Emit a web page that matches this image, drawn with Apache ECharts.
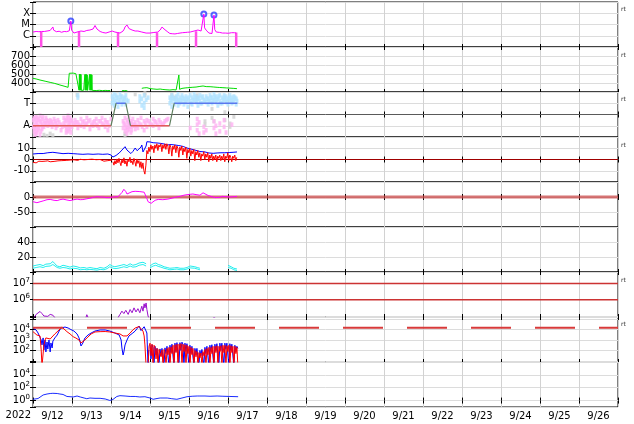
<!DOCTYPE html>
<html><head><meta charset="utf-8">
<script src="https://cdn.jsdelivr.net/npm/echarts@6/dist/echarts.min.js"></script>
<style>html,body{margin:0;padding:0;background:#fff}#c{width:634px;height:424px}</style>
</head><body><div id="c"></div>
<script>
// ---------- DATA (time t in days since 2022-09-12 00:00 UT) ----------
const dayLabels = ['9/12','9/13','9/14','9/15','9/16','9/17','9/18','9/19','9/20','9/21','9/22','9/23','9/24','9/25','9/26'];
const yearLabel = '2022';

// Panel 1: X-ray class level (C=1, M=2, X=3)
const xrayLevel = [[0,1.33],[0.04,1.29],[0.08,1.38],[0.1,1.33],[0.13,1.29],[0.15,1.36],[0.18,1.33],[0.22,1.38],[0.26,1.42],[0.29,1.38],[0.33,1.47],[0.36,1.42],[0.38,1.38],[0.41,1.44],[0.44,1.47],[0.46,1.42],[0.49,1.6],[0.51,1.78],[0.53,1.5],[0.56,1.42],[0.6,1.36],[0.64,1.33],[0.67,1.4],[0.69,1.38],[0.73,1.31],[0.77,1.33],[0.8,1.38],[0.82,1.42],[0.86,1.36],[0.9,1.38],[0.93,1.44],[0.95,1.51],[0.97,2.31],[0.99,1.5],[1.0,1.47],[1.03,1.33],[1.05,1.24],[1.09,1.3],[1.13,1.33],[1.18,1.38],[1.23,1.42],[1.27,1.36],[1.31,1.38],[1.35,1.44],[1.38,1.47],[1.42,1.44],[1.46,1.51],[1.5,1.55],[1.54,1.6],[1.57,1.75],[1.59,1.91],[1.61,1.75],[1.64,1.6],[1.68,1.47],[1.72,1.38],[1.76,1.33],[1.79,1.29],[1.83,1.26],[1.87,1.24],[1.91,1.3],[1.95,1.33],[1.99,1.38],[2.03,1.42],[2.06,1.36],[2.1,1.33],[2.16,1.29],[2.23,1.24],[2.27,1.33],[2.31,1.42],[2.34,1.6],[2.36,1.78],[2.38,1.85],[2.41,1.96],[2.43,1.8],[2.46,1.64],[2.5,1.56],[2.54,1.51],[2.58,1.47],[2.62,1.42],[2.66,1.45],[2.69,1.42],[2.74,1.38],[2.79,1.33],[2.84,1.29],[2.9,1.24],[2.95,1.27],[3.0,1.24],[3.05,1.27],[3.1,1.29],[3.15,1.24],[3.2,1.33],[3.23,1.42],[3.26,1.51],[3.29,1.65],[3.31,1.78],[3.34,1.7],[3.36,1.6],[3.4,1.47],[3.44,1.38],[3.48,1.29],[3.51,1.2],[3.57,1.18],[3.64,1.16],[3.7,1.2],[3.77,1.24],[3.83,1.27],[3.9,1.29],[3.96,1.31],[4.03,1.33],[4.08,1.38],[4.13,1.42],[4.18,1.47],[4.23,1.51],[4.27,1.47],[4.31,1.42],[4.34,1.47],[4.36,1.51],[4.38,2.93],[4.4,1.7],[4.41,1.6],[4.44,1.5],[4.46,1.42],[4.49,1.33],[4.51,1.24],[4.55,1.22],[4.59,1.2],[4.62,1.3],[4.64,2.84],[4.66,1.55],[4.67,1.42],[4.7,1.33],[4.74,1.24],[4.78,1.3],[4.82,1.33],[4.86,1.24],[4.9,1.16],[4.93,1.24],[4.97,1.29],[5.01,1.22],[5.05,1.2],[5.09,1.27],[5.13,1.33],[5.17,1.27],[5.21,1.24]];
const xrayGaps = [[0.21,1.33],[1.18,1.35],[2.18,1.3],[3.18,1.3],[4.18,1.4],[5.21,1.3]];
const xrayFlares = [[0.97,2.31],[4.38,2.93],[4.64,2.84]];

// Panel 2: solar wind speed (km/s)
const windSpeed = [[0,452],[0.08,445],[0.18,433],[0.31,420],[0.44,407],[0.56,395],[0.69,378],[0.82,362],[0.9,352],[0.92,350],
 [0.93,508],[0.97,505],[1.03,510],[1.1,503],[1.15,500],
 [1.18,320],[1.19,500],[1.2,320],[1.21,500],[1.22,320],[1.23,495],[1.24,318],[1.26,322],[1.28,318],[1.3,320],
 [1.33,495],[1.34,320],[1.35,495],[1.36,320],[1.37,495],[1.38,320],[1.39,490],[1.4,318],[1.42,320],[1.44,318],
 [1.45,495],[1.46,320],[1.47,495],[1.48,320],[1.49,495],[1.5,320],[1.51,490],[1.52,318],
 [1.56,320],[1.62,316],[1.7,319],[1.78,315],[1.85,318],[1.92,316],[1.98,317],null,
 [2.28,314],[2.35,316],[2.42,313],null,
 [2.79,341],[2.85,346],[2.92,348],[3.0,338],[3.08,334],[3.18,330],[3.26,333],[3.33,328],[3.41,325],[3.51,322],[3.59,326],[3.67,323],[3.72,326],[3.74,489],[3.76,330],[3.82,340],[3.9,345],[3.97,348],[4.08,352],[4.18,355],[4.28,362],[4.36,367],[4.44,360],[4.54,359],[4.62,356],[4.72,352],[4.79,350],[4.87,348],[4.97,345],[5.05,343],[5.15,340],[5.23,337]];

// Panel 3: IMF sector (T = toward = 1, A = away = -1)
const sectorAway = [[[0,-1],[2.0,-1]],[[2.5,-1],[3.5,-1]]];
const sectorToward = [[[2.13,1],[2.38,1]],[[3.62,1],[5.24,1]]];
const sectorRamp = [[[2.0,-1],[2.13,1]],[[2.38,1],[2.5,-1]],[[3.5,-1],[3.62,1]]];
const phiPink = [[0.03,-0.3],[0.03,-0.9],[0.03,-1.5],[0.08,-0.2],[0.08,-0.7],[0.08,-1.2],[0.08,-1.7],[0.13,-0.5],[0.13,-1.0],[0.13,-1.4],[0.18,-0.1],[0.18,-0.6],[0.18,-1.8],[0.23,-0.4],[0.23,-0.9],[0.23,-1.3],[0.28,-0.6],[0.28,-1.1],[0.33,-0.3],[0.33,-0.8],[0.38,-0.6],[0.38,-1.0],[0.44,-0.5],[0.44,-0.9],[0.49,-0.7],[0.49,-1.1],[0.54,-0.4],[0.59,-0.8],[0.59,-1.2],[0.64,-0.5],[0.72,-0.9],[0.72,-1.4],[0.79,-0.3],[0.79,-0.8],[0.85,-0.6],[0.85,-1.2],[0.85,-1.6],[0.9,-0.1],[0.9,-0.5],[0.9,-1.0],[0.9,-1.5],[0.95,-0.3],[0.95,-0.8],[0.95,-1.3],[1.0,-0.6],[1.0,-1.1],[1.08,-0.5],[1.08,-0.9],[1.15,-0.7],[1.15,-1.2],[1.23,-0.4],[1.23,-1.0],[1.31,-0.6],[1.31,-1.1],[1.38,-0.3],[1.38,-0.8],[1.46,-0.5],[1.46,-1.3],[1.54,-0.7],[1.54,-1.0],[1.62,-0.4],[1.62,-0.9],[1.69,-0.6],[1.69,-1.2],[1.77,-0.3],[1.77,-0.8],[1.85,-0.5],[1.85,-1.1],[1.92,-0.7],[1.92,-1.4],[2.0,-0.4],[2.31,-0.6],[2.31,-1.2],[2.36,-0.3],[2.36,-0.9],[2.36,-1.5],[2.41,-0.5],[2.41,-1.1],[2.41,-1.7],[2.46,-0.2],[2.46,-0.8],[2.46,-1.3],[2.51,-0.6],[2.51,-1.1],[2.51,-1.6],[2.56,-0.4],[2.56,-1.0],[2.62,-0.7],[2.62,-1.3],[2.69,-0.5],[2.69,-1.2],[2.77,-0.3],[2.77,-0.9],[2.85,-0.6],[2.85,-1.4],[2.92,-0.5],[2.92,-1.1],[3.0,-0.8],[3.08,-0.4],[3.08,-1.0],[3.15,-0.7],[3.23,-0.5],[3.23,-1.2],[3.31,-0.9],[3.38,-0.6],[3.46,-0.4],[4.03,-1.2],[4.21,-0.4],[4.21,-0.9],[4.21,-1.4],[4.26,-0.7],[4.26,-1.7],[4.38,-1.1],[4.38,-1.6],[4.44,-1.4],[4.64,-0.6],[4.64,-1.2],[4.69,-1.0],[4.69,-1.7],[4.79,-0.8],[4.79,-1.5],[4.9,-0.5],[4.9,-1.1],[4.95,-1.6],[5.1,-0.9],
 [0.01,-0.5],[0.01,-1.1],[0.05,-0.4],[0.05,-1.3],[0.05,-1.8],[0.1,-0.3],[0.1,-0.8],[0.1,-1.6],[0.15,-0.4],[0.15,-1.2],[0.2,-0.7],[0.2,-1.5],[0.25,-0.2],[0.25,-1.1],[0.3,-0.8],[0.35,-0.5],[0.41,-0.8],[0.46,-0.6],[0.52,-0.9],[0.57,-0.6],[0.62,-1.0],[0.67,-0.7],[0.75,-1.1],[0.82,-0.5],[0.82,-1.0],[0.87,-0.3],[0.87,-1.4],[0.92,-0.7],[0.92,-1.2],[0.97,-0.5],[0.97,-1.6],[1.03,-0.8],[1.11,-0.7],[1.18,-0.9],[1.27,-0.7],[1.34,-0.9],[1.42,-0.6],[1.5,-0.9],[1.58,-0.6],[1.65,-1.0],[1.73,-0.6],[1.81,-0.9],[1.88,-0.7],[1.95,-1.0],[2.33,-0.8],[2.38,-1.2],[2.43,-0.7],[2.43,-1.4],[2.48,-1.0],[2.53,-0.8],[2.53,-1.4],[2.59,-0.9],[2.65,-1.0],[2.72,-0.8],[2.8,-1.1],[2.88,-0.8],[2.96,-0.6],[3.04,-0.9],[3.12,-0.6],[3.19,-0.9],[3.27,-0.7],[3.35,-0.8],[3.42,-0.5]];
const phiBlue = [[1.15,1.7],[1.15,1.5],[2.03,1.6],[2.03,1.0],[2.08,1.4],[2.08,0.8],[2.08,1.8],[2.13,1.2],[2.13,1.7],[2.18,0.7],[2.18,1.5],[2.23,1.3],[2.23,1.8],[2.28,0.9],[2.28,1.6],[2.33,1.4],[2.33,1.1],[2.38,1.7],[2.38,0.9],[2.44,1.2],[2.74,1.6],[2.74,1.2],[2.79,1.4],[2.79,0.8],[2.85,1.7],[2.85,1.0],[2.85,0.6],[2.9,1.3],[2.95,1.5],[3.51,1.5],[3.51,1.0],[3.56,1.7],[3.56,1.2],[3.56,0.7],[3.62,1.4],[3.62,0.9],[3.67,1.6],[3.67,1.1],[3.72,1.8],[3.72,1.3],[3.72,0.8],[3.77,1.5],[3.77,1.0],[3.82,1.2],[3.82,1.7],[3.87,1.4],[3.87,0.9],[3.92,1.6],[3.92,1.1],[3.97,1.3],[3.97,0.7],[4.03,1.7],[4.03,1.2],[4.08,1.5],[4.08,0.9],[4.13,1.8],[4.13,1.3],[4.18,1.1],[4.18,1.6],[4.23,1.4],[4.23,0.8],[4.28,1.7],[4.28,1.2],[4.33,1.5],[4.33,1.0],[4.38,1.3],[4.44,1.6],[4.44,1.1],[4.49,1.4],[4.49,0.9],[4.54,1.7],[4.54,1.2],[4.59,1.5],[4.59,1.0],[4.64,1.3],[4.64,1.8],[4.69,1.1],[4.69,1.6],[4.74,1.4],[4.74,0.8],[4.79,1.7],[4.79,1.2],[4.85,1.5],[4.85,1.0],[4.9,1.3],[4.9,1.7],[4.95,1.6],[4.95,1.1],[5.0,1.4],[5.0,0.9],[5.05,1.7],[5.05,1.2],[5.1,1.5],[5.1,1.0],[5.15,1.3],[5.15,1.6],[5.21,1.4],[5.21,0.9],
 [2.05,1.3],[2.1,1.0],[2.15,1.5],[2.2,1.1],[2.25,1.55],[2.3,1.2],[2.35,1.5],[2.4,1.3],[3.53,1.3],[3.58,1.5],[3.64,1.2],[3.69,1.4],[3.74,1.1],[3.79,1.3],[3.84,1.5],[3.89,1.2],[3.94,1.4],[3.99,1.5],[4.05,1.0],[4.1,1.3],[4.15,1.5],[4.2,1.2],[4.25,1.5],[4.3,1.0],[4.35,1.6],[4.4,1.2],[4.46,1.4],[4.51,1.2],[4.56,1.5],[4.61,1.2],[4.66,1.5],[4.71,1.3],[4.76,1.6],[4.81,1.0],[4.87,1.3],[4.92,1.5],[4.97,1.2],[5.03,1.5],[5.08,1.3],[5.13,1.1],[5.18,1.5],[5.23,1.2]];
const phiGray = [[0.28,-1.8],[0.36,-1.9],[0.44,-1.7],[0.51,-1.85],[1.13,1.75],[2.36,-1.7],[2.36,-1.9],[2.62,1.8],[2.87,1.9],[2.87,1.7],[3.56,1.8],[3.56,1.6],[3.64,1.5],[4.21,1.7],[4.21,1.4],[4.41,-0.6],[4.41,-0.9],[4.59,0.5],[4.59,-0.3],[4.64,-0.6],[4.92,0.2],[4.92,-0.5],[5.05,-0.8],[5.05,-1.1],[5.15,-0.2]];

// Panel 4: IMF Bt (blue) and Bz (red), nT
const imfBt = [[0,4.9],[0.13,5.3],[0.26,5.3],[0.38,6.0],[0.51,6.4],[0.64,5.8],[0.77,5.2],[0.9,5.5],[1.03,5.2],[1.15,4.9],[1.28,4.6],[1.41,4.9],[1.54,4.6],[1.67,4.9],[1.79,4.6],[1.92,4.9],[2.0,4.0],[2.05,2.2],[2.13,3.6],[2.21,5.8],[2.26,7.6],[2.31,9.3],[2.36,11.4],[2.41,8.4],[2.46,6.7],[2.51,5.3],[2.56,7.1],[2.62,10.2],[2.67,7.8],[2.72,6.7],[2.77,11.1],[2.79,12.9],[2.82,6.7],[2.85,8.4],[2.9,12.0],[2.92,15.8],[3.0,15.6],[3.08,14.9],[3.18,14.7],[3.26,14.4],[3.36,13.8],[3.44,12.9],[3.54,13.3],[3.64,12.9],[3.74,12.4],[3.85,11.6],[3.95,10.2],[4.05,9.3],[4.15,8.4],[4.28,7.1],[4.41,6.7],[4.51,5.8],[4.62,5.5],[4.72,5.8],[4.82,6.0],[4.92,6.0],[5.03,6.2],[5.13,6.4],[5.23,6.7]];
const imfBzEarly = [[0,-2.5],[0.03,-3.5],[0.05,-1.8],[0.08,-3.0],[0.1,-2.0],[0.13,-3.2],[0.15,-1.5],[0.18,-2.8],[0.23,-1.7],[0.26,-3.0],[0.31,-1.5],[0.33,-2.5],[0.38,-1.2],[0.44,-2.0],[0.49,-0.8],[0.54,-1.7],[0.59,-0.5],[0.64,-1.2],[0.69,-0.2],[0.74,-1.0],[0.79,0.2],[0.85,-0.8],[0.9,0.3],[0.95,-0.5],[1.0,0.5],[1.05,-0.3],[1.1,0.4],[1.15,-0.8],[1.21,0.2],[1.26,-1.5],[1.31,-0.3],[1.36,-1.0],[1.41,0.0],[1.46,-0.8],[1.51,0.3],[1.56,-1.0],[1.62,-0.2],[1.67,-1.2],[1.72,0.0],[1.77,-0.7],[1.82,-1.5],[1.87,-0.2],[1.92,-1.0],[1.97,0.5],[2.03,-0.5]];
const bzStart = 2.05, bzCadence = 0.0256;
const imfBzLate = [-2,-5,-1,-4,0.5,-3,1,-2.5,-5.5,0,-3,1.5,-4,-1,-6,0,-2,2,-3,-1,-4.5,1,-2,-6,0.5,-3.5,-1,-7,-2,-8,-3,-10,-13,-5,8,5,11,7,13,9,12,6,13,10,14,8,13,11,14,7,13,10,14,9,14,12,5,13,11,3,12,9,13,6,12,10,2,11,8,12,4,10,7,11,1,9,6,10,3,8,5,9,-1,7,4,8,2,6,-1,5,3,7,0,5,2,6,-2,4,1,5,-1,3,0,4,-2,3,1,4,-1,3,0,5,-2,3,1,6,-1,4,2,-2,3,1,4,-1,2];

// Panel 5: magenta index
const indexAE = [[0,-15.6],[0.1,-19],[0.18,-16],[0.26,-13],[0.36,-9],[0.44,-8],[0.54,-11],[0.62,-12],[0.69,-9],[0.77,-7],[0.87,-10],[0.95,-12],[1.05,-9],[1.13,-7],[1.21,-9],[1.28,-8.5],[1.38,-6],[1.46,-4],[1.56,-1],[1.64,1],[1.72,0],[1.79,0],[1.87,-2],[1.97,-2],[2.05,0],[2.1,2],[2.18,1],[2.23,6.7],[2.28,15],[2.33,25.6],[2.38,18],[2.41,10],[2.46,8],[2.54,17.8],[2.62,19],[2.67,20],[2.74,18],[2.79,23],[2.85,16],[2.87,10],[2.92,-5],[2.95,-15.6],[3.03,-21],[3.08,-17],[3.13,-11],[3.21,-8],[3.26,-5],[3.33,-9],[3.38,-11],[3.46,-7],[3.51,-5],[3.62,-2],[3.69,0],[3.79,3],[3.87,6],[3.95,7.8],[4.03,9],[4.1,10],[4.18,8],[4.28,6],[4.36,14],[4.41,10],[4.49,5],[4.59,1],[4.67,-2],[4.72,-3.3],[4.79,-1],[4.85,2],[4.95,1],[5.05,0],[5.15,1],[5.23,2]];

// Panel 6: cyan pair
const cyanHigh = [[0,8],[0.08,9],[0.18,10],[0.26,8.5],[0.33,10.5],[0.44,11],[0.51,14],[0.56,11],[0.62,8],[0.69,7],[0.77,9],[0.85,8],[0.95,6.5],[1.03,8],[1.13,7],[1.21,5.5],[1.31,6],[1.38,5],[1.46,6],[1.56,5],[1.64,4.5],[1.72,6],[1.82,5],[1.9,7],[1.97,10],[2.03,8],[2.1,7],[2.18,8],[2.26,9],[2.33,10],[2.41,8.5],[2.49,11],[2.56,9],[2.64,10],[2.72,12],[2.77,10],[2.82,13],[2.87,14.7],[2.9,11],null,[3.0,8],[3.08,11],[3.15,12],[3.21,10],[3.28,9],[3.36,7],[3.44,6],[3.51,5],[3.62,5.5],[3.69,6],[3.77,5],[3.87,5],[3.95,6],[4.03,8],[4.08,10],[4.15,7],[4.21,6],[4.28,5],null,[5.0,9],[5.08,7],[5.15,5],[5.23,4]];
const cyanLow = [[0,5],[0.08,6],[0.18,7],[0.26,6],[0.33,7.5],[0.44,8],[0.51,10],[0.56,8.5],[0.62,6],[0.69,5],[0.77,6],[0.85,5.5],[0.95,4],[1.03,5],[1.13,4.5],[1.21,3],[1.31,3.5],[1.38,3],[1.46,3.5],[1.56,3],[1.64,2.5],[1.72,3.5],[1.82,3],[1.9,4.5],[1.97,7],[2.03,5.5],[2.1,4.5],[2.18,5],[2.26,6],[2.33,7],[2.41,6],[2.49,8],[2.56,6.5],[2.64,7],[2.72,9],[2.77,7.5],[2.82,10],[2.87,11],[2.9,8],null,[3.0,5.5],[3.08,8],[3.15,9],[3.21,7.5],[3.28,6.5],[3.36,5],[3.44,4],[3.51,3],[3.62,3.5],[3.69,4],[3.77,3],[3.87,3],[3.95,4],[4.03,5.5],[4.08,7],[4.15,5],[4.21,4],[4.28,3],null,[5.0,6],[5.08,5],[5.15,3],[5.23,2]];

// Panel 7: log10 of purple flux, thresholds
const fluxThresholds = [7, 6];
const purpleLog = [[0.03,4.9],[0.08,5.1],[0.13,5.2],[0.18,5.28],[0.23,5.15],[0.28,5.0],[0.33,5.05],[0.38,4.98],[0.44,5.1],[0.51,5.05],[0.56,4.9],null,[1.36,4.92],[1.38,5.08],[1.41,4.92],null,[2.18,4.9],[2.23,5.1],[2.28,5.3],[2.33,5.15],[2.38,5.35],[2.44,5.1],[2.49,5.4],[2.54,5.2],[2.59,5.5],[2.64,5.25],[2.69,5.45],[2.74,5.2],[2.79,5.6],[2.82,5.3],[2.85,5.75],[2.87,5.5],[2.9,5.8],[2.92,5.4],[2.95,5.0],[2.97,4.9],null,[4.62,4.9],[4.64,4.98],[4.67,4.9]];

// Panel 8: log10 of electron fluxes (blue, red) and threshold
const p8Threshold = 4.18;
const p8BlueEarly = [[0,4.12],[0.08,3.96],[0.13,3.67],[0.18,3.48],[0.21,3.0],[0.23,2.53],[0.26,3.2],[0.28,2.05],[0.31,3.0],[0.33,1.86],[0.36,2.81],[0.38,2.14],[0.41,3.0],[0.44,1.86],[0.46,2.72],[0.49,2.24],[0.51,2.9],[0.56,3.2],[0.62,3.48],[0.67,3.86],[0.72,4.15],[0.77,4.29],[0.82,4.24],[0.9,4.15],[0.97,4.0],[1.05,3.86],[1.13,3.58],[1.18,3.2],[1.21,2.81],[1.23,2.43],[1.26,2.24],[1.28,2.72],[1.33,3.19],[1.41,3.48],[1.49,3.67],[1.59,3.86],[1.72,3.96],[1.85,3.96],[1.97,3.86],[2.1,3.67],[2.21,3.48],[2.26,3.0],[2.28,2.24],[2.31,1.57],[2.33,1.86],[2.36,2.53],[2.41,3.0],[2.46,3.39],[2.51,3.58],[2.56,3.67],[2.62,3.86],[2.67,3.96],[2.72,4.34],[2.77,3.9],[2.79,4.05],[2.85,4.27],[2.87,4.15],[2.92,3.67],[2.95,0.5],[2.97,2.05]];
const p8RedEarly = [[0,3.8],[0.05,3.67],[0.1,3.48],[0.15,3.58],[0.18,3.39],[0.21,2.05],[0.23,0.5],[0.26,0.5],[0.28,2.53],[0.31,3.0],[0.33,3.2],[0.38,3.29],[0.44,3.1],[0.49,3.29],[0.56,3.58],[0.64,3.86],[0.69,4.05],[0.74,4.24],[0.79,4.05],[0.87,3.8],[0.95,3.58],[1.03,3.32],[1.1,3.19],[1.18,3.0],[1.23,2.72],[1.26,2.53],[1.28,2.72],[1.33,3.0],[1.41,3.29],[1.49,3.58],[1.59,3.77],[1.72,3.8],[1.85,3.81],[1.97,3.77],[2.1,3.67],[2.23,3.58],[2.31,3.39],[2.36,3.2],[2.41,3.39],[2.49,3.67],[2.56,3.96],[2.62,4.15],[2.67,4.24],[2.72,4.29],[2.77,4.15],[2.82,3.86],[2.85,3.39],[2.87,2.53],[2.9,0.5],[2.92,0.5]];
const p8Cadence = 0.0256, p8RedStart = 2.95, p8BlueStart = 3.0;
const p8RedLate = [0.5,2.4,2.7,1.5,2.6,0.5,2.5,2.3,1.2,2.2,0.5,2.1,2.0,1.4,2.05,0.5,2.1,1.9,0.5,2.2,1.6,2.3,0.5,2.35,1.7,2.5,0.5,2.55,1.8,2.6,0.5,2.6,2.1,2.65,0.5,2.6,1.9,2.55,0.5,2.5,1.7,2.4,0.5,2.3,1.6,2.2,0.5,2.0,1.4,1.9,0.5,1.8,1.3,1.75,0.5,1.9,1.5,2.1,0.5,2.2,1.6,2.3,0.5,2.3,1.7,2.4,0.5,2.4,1.8,2.45,0.5,2.4,1.9,2.45,0.5,2.5,1.8,2.5,0.5,2.45,1.9,2.5,0.5,2.45,1.8,2.4,0.5,2.4,1.7,2.3,0.5];
const p8BlueLate = [2.5,1.2,2.55,2.3,0.5,2.4,1.6,2.2,2.1,0.5,2.15,1.5,2.2,2.1,0.5,2.25,1.7,2.4,2.3,0.5,2.5,1.8,2.6,2.5,0.5,2.7,1.9,2.75,2.6,0.5,2.75,2.0,2.8,2.6,0.5,2.7,1.9,2.65,2.5,0.5,2.5,1.7,2.4,2.3,0.5,2.2,1.6,2.2,2.1,0.5,2.0,1.5,2.1,2.2,0.5,2.3,1.7,2.4,2.45,0.5,2.5,1.9,2.55,2.6,0.5,2.6,2.0,2.65,2.7,0.5,2.7,2.0,2.7,2.65,0.5,2.7,2.1,2.7,2.65,0.5,2.65,2.0,2.6,2.6,0.5,2.5,1.9,2.4,2.2];

// Panel 9: log10 of blue flux
const p9BlueLog = [[0,0.2],[0.13,0.32],[0.26,0.87],[0.36,1.02],[0.44,1.1],[0.51,1.13],[0.62,1.1],[0.69,1.02],[0.77,0.95],[0.87,0.64],[0.95,0.6],[1.03,0.56],[1.13,0.71],[1.21,0.56],[1.31,0.4],[1.38,0.29],[1.46,0.4],[1.59,0.35],[1.72,0.35],[1.85,0.25],[1.97,0.02],[2.05,0.17],[2.15,0.64],[2.23,0.76],[2.36,0.71],[2.49,0.64],[2.62,0.64],[2.74,0.56],[2.87,0.6],[3.0,0.4],[3.08,0.2],[3.18,0.32],[3.26,0.4],[3.44,0.4],[3.56,0.29],[3.69,0.2],[3.82,0.4],[3.95,0.6],[4.08,0.67],[4.21,0.71],[4.28,0.71],[4.41,0.71],[4.54,0.67],[4.72,0.71],[4.87,0.67],[5.05,0.64],[5.26,0.6]];

// ---------- BUILD ----------
const FONT = 'DejaVu Sans';
const NDAYS = dayLabels.length;
const gap = ['-','-'];
const pts = arr => arr.map(p => p === null ? gap : p);
const segs = list => { const o = []; list.forEach(s => { s.forEach(p => o.push(p)); o.push(gap); }); return o; };
const cad = (start, step, vals) => vals.map((v, i) => [+(start + i * step).toFixed(4), v]);

const yCfg = [
  {min:0, max:4, interval:1, fmt: v => ({1:'C',2:'M',3:'X'})[v] || ''},
  {min:300, max:800, interval:100, fmt: v => (v >= 400 && v <= 700) ? String(v) : ''},
  {min:-2, max:2, interval:1, fmt: v => ({1:'T','-1':'A'})[v] || ''},
  {min:-20, max:20, interval:10, fmt: v => Math.abs(v) <= 10 ? String(v) : ''},
  {min:-100, max:50, interval:50, fmt: v => (v === 0 || v === -50) ? String(v) : ''},
  {min:0, max:60, interval:20, fmt: v => (v === 20 || v === 40) ? String(v) : ''},
  {min:4.94, max:7.7, step:1, pow:[6,7]},
  {min:0.9, max:5.2, step:1, pow:[2,3,4]},
  {min:-1, max:6, step:2, pow:[0,2,4]}
];

const grids = [], xAxes = [], yAxes = [], series = [];
const tickStyle = {show:true, inside:true, length:3, lineStyle:{color:'#000', width:1}};
for (let i = 0; i < 9; i++) {
  grids.push({left:33, top:2 + 45 * i, width:585, height:45, show:true, borderColor:'#000', borderWidth:1,
    backgroundColor:'transparent', containLabel:false, outerBoundsMode:'none'});
}
for (let i = 0; i < 9; i++) {
  xAxes.push({type:'value', gridIndex:i, min:0, max:NDAYS, interval:1, position:'bottom',
    axisLine:{show:false}, axisTick:tickStyle, axisLabel:{show:false},
    splitLine:{show:true, lineStyle:{color:'#d2d2d2', width:1}}});
}
for (let i = 0; i < 9; i++) {
  xAxes.push({type:'value', gridIndex:i, min:0, max:NDAYS, interval:1, position:'top',
    axisLine:{show:false}, axisTick:tickStyle, axisLabel:{show:false}, splitLine:{show:false}});
}
xAxes.push({type:'category', gridIndex:8, data:dayLabels, boundaryGap:true, position:'bottom',
  axisLine:{show:false}, axisTick:{show:false}, splitLine:{show:false},
  axisLabel:{interval:0, margin:4, fontSize:10, color:'#000', fontFamily:FONT}});

const rich = {b:{fontSize:10, fontFamily:FONT, color:'#000'}, s:{fontSize:7, fontFamily:FONT, color:'#000', padding:[0,0,7,0]}};
yCfg.forEach((c, i) => {
  const base = {type:'value', gridIndex:i, min:c.min, max:c.max, axisLine:{show:false}, axisTick:tickStyle,
    splitLine:{show:true, lineStyle:{color:'#dcdcdc', width:1}}};
  if (c.interval) base.interval = c.interval; else { base.minInterval = c.step; base.maxInterval = c.step; base.splitNumber = 4; }
  const lab = {show:true, margin:3, fontSize:10, color:'#000', fontFamily:FONT, showMinLabel:true, showMaxLabel:true};
  lab.formatter = c.pow ? (v => c.pow.includes(Math.round(v * 1000) / 1000) ? '{b|10}{s|' + Math.round(v) + '}' : '') : c.fmt;
  if (c.pow) lab.rich = rich;
  yAxes.push(Object.assign({position:'left', axisLabel:lab}, base));
});
yCfg.forEach((c, i) => {
  const base = {type:'value', gridIndex:i, min:c.min, max:c.max, position:'right', axisLine:{show:false},
    axisTick:tickStyle, axisLabel:{show:false}, splitLine:{show:false}};
  if (c.interval) base.interval = c.interval; else { base.minInterval = c.step; base.maxInterval = c.step; base.splitNumber = 4; }
  yAxes.push(base);
});

function line(i, data, color, width, extra) {
  return Object.assign({type:'line', xAxisIndex:i, yAxisIndex:i, data:data, symbol:'none', silent:true,
    animation:false, connectNulls:false, clip:true, lineStyle:{color:color, width:width}}, extra || {});
}
function scatter(i, data, color, size) {
  return {type:'scatter', xAxisIndex:i, yAxisIndex:i, data:data, symbol:'rect', symbolSize:size,
    silent:true, animation:false, itemStyle:{color:color}};
}
const span = v => [[0, v], [NDAYS, v]];

// Panel 1
const gapSegs = []; xrayGaps.forEach(g => { gapSegs.push([g[0], g[1]], [g[0], 0], gap); });
series.push(line(0, gapSegs, '#ff50e6', 2.5));
series.push(line(0, xrayLevel, '#ff00ff', 1));
series.push({type:'scatter', xAxisIndex:0, yAxisIndex:0, data:xrayFlares, symbol:'emptyCircle', symbolSize:5,
  silent:true, animation:false, itemStyle:{color:'#2a3cff', borderWidth:1}});
// Panel 2
series.push(line(1, pts(windSpeed), '#00dd00', 1));
// Panel 3
series.push(scatter(2, phiGray, '#cfcfcf', [3, 4]));
series.push(scatter(2, phiPink, '#ffb2f2', [3, 4.5]));
series.push(scatter(2, phiBlue, '#b0e2ff', [3, 4.5]));
series.push(line(2, span(0), '#5a5a5a', 1));
series.push(line(2, segs(sectorAway), '#e45a5a', 1.5));
series.push(line(2, segs(sectorToward), '#5a78ee', 1.5));
series.push(line(2, segs(sectorRamp), '#5f7f5f', 1.2));
// Panel 4
series.push(line(3, span(0), '#a00000', 1));
series.push(line(3, imfBt, '#0000ff', 1));
series.push(line(3, imfBzEarly.concat([gap]).concat(cad(bzStart, bzCadence, imfBzLate)), '#ff0000', 1));
// Panel 5
series.push(line(4, span(0), 'rgba(200,70,70,0.75)', 3));
series.push(line(4, indexAE, '#ff00ff', 1));
// Panel 6
series.push(line(5, pts(cyanLow), '#22eeee', 1));
series.push(line(5, pts(cyanHigh), '#22eeee', 1));
// Panel 7
fluxThresholds.forEach(v => series.push(line(6, span(v), '#cc3333', 1.5)));
series.push(line(6, pts(purpleLog), '#9a10cc', 1));
// Panel 8
series.push(line(7, p8BlueEarly.concat([gap]).concat(cad(p8BlueStart, p8Cadence, p8BlueLate)), '#0000ff', 1));
series.push(line(7, p8RedEarly.concat([gap]).concat(cad(p8RedStart, p8Cadence, p8RedLate)), '#ff0000', 1));
series.push(line(7, span(p8Threshold), '#d83a3a', 2, {lineStyle:{color:'#d83a3a', width:2, type:[40,24], dashOffset:10}}));
// Panel 9
series.push(line(8, p9BlueLog, '#1a2cff', 1));

const rtY = [10, 56, 100, 146, 281, 325];
const graphic = [{type:'text', right:634 - 31, top:410, style:{text:yearLabel, font:'10px "DejaVu Sans"', fill:'#000', textAlign:'right'}}];
rtY.forEach(y => graphic.push({type:'text', left:621, top:y - 4, style:{text:'rt', font:'6px "DejaVu Sans"', fill:'#333'}}));

const chart = echarts.init(document.getElementById('c'), null, {renderer:'canvas'});
chart.setOption({animation:false, backgroundColor:'#fff', grid:grids, xAxis:xAxes, yAxis:yAxes, series:series, graphic:graphic});
</script></body></html>
